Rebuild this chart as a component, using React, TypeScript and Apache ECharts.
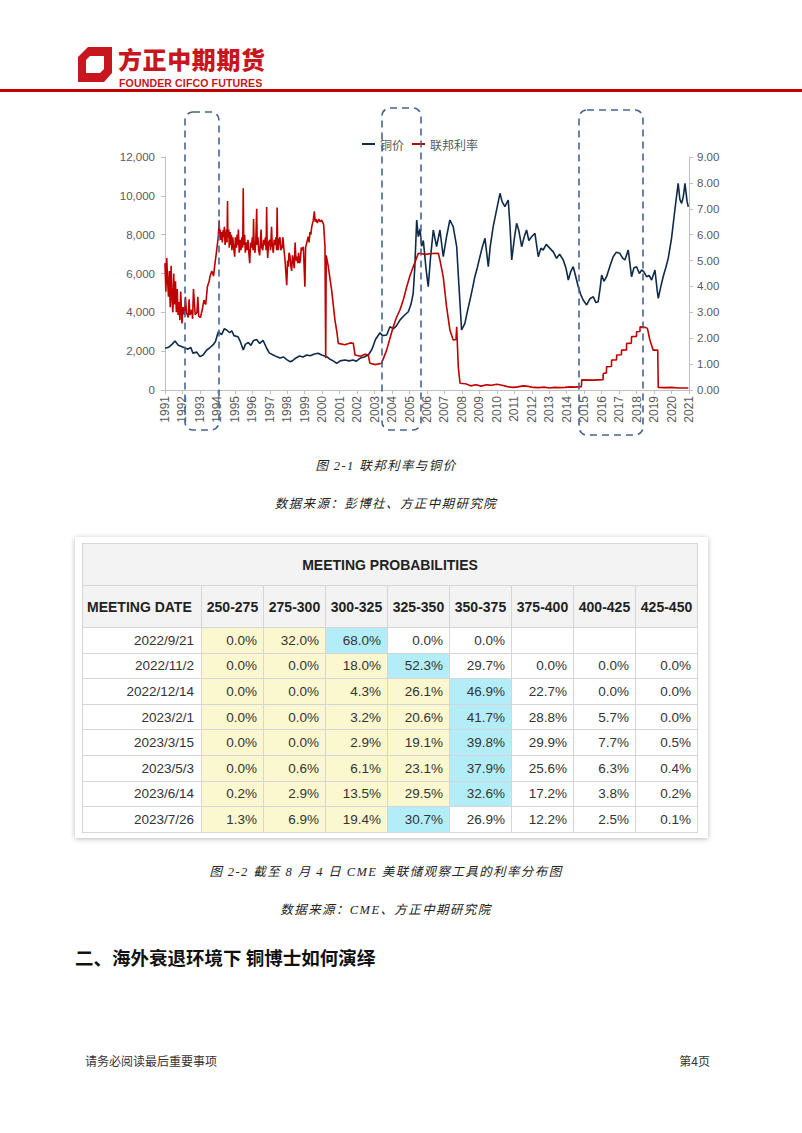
import React, { useEffect, useRef } from "react";
import * as echarts from "echarts";

// ---------- Chart data (decimal year, value) ----------
const copperPrice: [number, number][] = [
  [1991.0, 2150], [1991.2, 2200], [1991.4, 2350], [1991.57, 2520], [1991.76, 2300], [1991.91, 2250],
  [1992.14, 2160], [1992.32, 2100], [1992.47, 2200], [1992.6, 1900], [1992.82, 1950], [1993.0, 1720],
  [1993.18, 1800], [1993.39, 2060], [1993.53, 2150], [1993.75, 2320], [1993.89, 2500], [1994.05, 3000],
  [1994.24, 2850], [1994.39, 3150], [1994.53, 3090], [1994.7, 2950], [1994.82, 3050], [1994.95, 2800],
  [1995.18, 2740], [1995.31, 2500], [1995.48, 2060], [1995.6, 2350], [1995.77, 2450], [1995.92, 2300],
  [1996.07, 2550], [1996.25, 2600], [1996.42, 2400], [1996.62, 2550], [1996.82, 2150], [1996.98, 1900],
  [1997.2, 1800], [1997.38, 1720], [1997.58, 1650], [1997.79, 1700], [1997.99, 1550], [1998.16, 1460],
  [1998.29, 1500], [1998.5, 1650], [1998.7, 1750], [1998.9, 1700], [1999.11, 1800], [1999.31, 1760],
  [1999.56, 1850], [1999.77, 1890], [1999.97, 1800], [2000.26, 1715], [2000.42, 1600], [2000.63, 1500],
  [2000.83, 1375], [2001.03, 1500], [2001.3, 1545], [2001.53, 1500], [2001.78, 1545], [2001.94, 1480],
  [2002.16, 1630], [2002.4, 1700], [2002.64, 1800], [2002.85, 2100], [2003.05, 2600], [2003.31, 2950],
  [2003.45, 2800], [2003.69, 2830], [2003.88, 3260], [2004.07, 3150], [2004.25, 3300], [2004.45, 3600],
  [2004.65, 3800], [2004.93, 4030], [2005.08, 4400], [2005.21, 4980], [2005.3, 6300], [2005.41, 8750],
  [2005.5, 7900], [2005.6, 8300], [2005.69, 7400], [2005.79, 7700], [2005.95, 6200], [2006.07, 5320],
  [2006.2, 6800], [2006.36, 8240], [2006.55, 7380], [2006.74, 8240], [2006.93, 6865], [2007.12, 7900],
  [2007.31, 8755], [2007.5, 8410], [2007.7, 7380], [2007.82, 5500], [2007.98, 3090], [2008.17, 3435],
  [2008.3, 4000], [2008.46, 4635], [2008.62, 5300], [2008.74, 5835], [2008.88, 6300], [2009.03, 6865],
  [2009.18, 7400], [2009.32, 7810], [2009.51, 6350], [2009.62, 7400], [2009.79, 8410], [2009.99, 9300],
  [2010.18, 10130], [2010.3, 9700], [2010.46, 9440], [2010.65, 9785], [2010.75, 8500], [2010.85, 6700],
  [2011.0, 7800], [2011.13, 8585], [2011.26, 8200], [2011.42, 7380], [2011.57, 7900], [2011.7, 8240],
  [2011.83, 7700], [2011.99, 7895], [2012.18, 8070], [2012.37, 6865], [2012.52, 7300], [2012.65, 7210],
  [2012.83, 7500], [2013.04, 7295], [2013.24, 7100], [2013.42, 6780], [2013.59, 7000], [2013.8, 6695],
  [2013.95, 6300], [2014.09, 5665], [2014.23, 6100], [2014.37, 6350], [2014.5, 5900], [2014.66, 5320],
  [2014.81, 4900], [2014.94, 4635], [2015.14, 4380], [2015.33, 4700], [2015.52, 4805], [2015.67, 4500],
  [2015.8, 4550], [2015.92, 5300], [2016.0, 5920], [2016.13, 5600], [2016.28, 5835], [2016.48, 6400],
  [2016.66, 6865], [2016.84, 7100], [2017.04, 7040], [2017.19, 6800], [2017.33, 6695], [2017.52, 7210],
  [2017.71, 5835], [2017.85, 6300], [2018.0, 6350], [2018.16, 6000], [2018.29, 6180], [2018.41, 6100],
  [2018.57, 5835], [2018.72, 5900], [2018.86, 5665], [2019.05, 6180], [2019.17, 5200], [2019.24, 4720],
  [2019.38, 5300], [2019.52, 5835], [2019.67, 6300], [2019.81, 6780], [2020.0, 7810], [2020.19, 9270],
  [2020.29, 10000], [2020.38, 10645], [2020.48, 9800], [2020.58, 9615], [2020.68, 10000], [2020.77, 10645],
  [2020.89, 9700], [2020.96, 9440],
];

const fedFundsRate: [number, number][] = [
  [1991.0, 4.9], [1991.05, 3.8], [1991.1, 5.1], [1991.15, 4.2], [1991.2, 3.6], [1991.25, 4.6], [1991.3, 3.2],
  [1991.35, 4.8], [1991.4, 3.5], [1991.45, 3.0], [1991.5, 4.5], [1991.55, 3.3], [1991.6, 4.2], [1991.65, 3.0],
  [1991.7, 3.9], [1991.75, 2.9], [1991.8, 3.4], [1991.85, 2.7], [1991.9, 3.8], [1991.97, 2.57], [1992.03, 3.2],
  [1992.12, 2.9], [1992.17, 3.6], [1992.23, 3.0], [1992.33, 2.8], [1992.38, 3.5], [1992.43, 2.9], [1992.53, 3.1],
  [1992.58, 2.75], [1992.63, 3.9], [1992.73, 2.9], [1992.83, 3.0], [1992.88, 3.6], [1992.93, 2.85], [1993.03, 2.8],
  [1993.13, 3.1], [1993.23, 3.47], [1993.33, 3.3], [1993.43, 4.0], [1993.53, 4.2], [1993.57, 4.37], [1993.68, 4.6],
  [1993.78, 4.4], [1993.86, 4.89], [1993.94, 5.3],
  [1994.05, 5.92], [1994.08, 6.3], [1994.1, 6.56], [1994.13, 5.9], [1994.15, 6.2], [1994.2, 5.8], [1994.25, 6.1],
  [1994.28, 5.7], [1994.33, 6.18], [1994.36, 5.9], [1994.4, 6.3], [1994.44, 5.6], [1994.48, 5.9], [1994.52, 6.2],
  [1994.55, 5.7], [1994.58, 7.3], [1994.6, 5.9], [1994.65, 6.2], [1994.68, 5.5], [1994.73, 6.1], [1994.77, 5.6],
  [1994.8, 6.0], [1994.83, 5.4], [1994.88, 5.9], [1994.93, 5.5], [1994.99, 5.15], [1995.03, 5.9], [1995.09, 5.5],
  [1995.13, 6.0], [1995.17, 5.6], [1995.2, 6.2], [1995.25, 5.3], [1995.3, 5.8], [1995.35, 5.4], [1995.4, 5.9],
  [1995.45, 5.5], [1995.48, 7.79], [1995.51, 5.6], [1995.56, 6.0], [1995.6, 5.3], [1995.65, 5.7], [1995.7, 5.4],
  [1995.75, 5.8], [1995.8, 5.3], [1995.85, 4.9], [1995.9, 5.7], [1995.95, 5.5], [1996.0, 5.9], [1996.04, 5.4],
  [1996.07, 6.6], [1996.1, 5.6], [1996.15, 5.3], [1996.2, 5.8], [1996.25, 7.0], [1996.28, 5.6], [1996.32, 5.9],
  [1996.36, 5.4], [1996.42, 5.2], [1996.46, 5.7], [1996.5, 6.2], [1996.54, 5.5], [1996.6, 5.4], [1996.65, 5.8],
  [1996.7, 5.6], [1996.75, 5.9], [1996.79, 5.4], [1996.82, 7.07], [1996.85, 5.6], [1996.88, 5.1], [1996.93, 5.7],
  [1997.0, 5.8], [1997.04, 5.4], [1997.1, 6.3], [1997.14, 5.6], [1997.2, 5.3], [1997.25, 5.8], [1997.3, 5.6],
  [1997.35, 5.9], [1997.39, 5.4], [1997.42, 7.05], [1997.45, 5.6], [1997.48, 5.4], [1997.53, 5.8], [1997.58, 5.9],
  [1997.63, 5.4], [1997.7, 5.5], [1997.75, 5.9], [1997.8, 5.5], [1997.87, 5.02], [1997.97, 4.05], [1998.02, 5.0],
  [1998.06, 4.76], [1998.1, 5.3], [1998.15, 5.2], [1998.2, 4.8], [1998.25, 4.6], [1998.3, 5.2], [1998.35, 5.0],
  [1998.4, 4.7], [1998.45, 5.7], [1998.5, 5.0], [1998.54, 5.15], [1998.6, 4.9], [1998.65, 5.3], [1998.7, 4.9],
  [1998.75, 5.0], [1998.8, 5.5], [1998.85, 5.4], [1998.92, 5.53], [1999.01, 3.99], [1999.05, 5.5], [1999.12, 5.7],
  [1999.2, 5.92], [1999.25, 5.7], [1999.3, 6.1], [1999.35, 6.0], [1999.4, 6.3], [1999.49, 6.56], [1999.55, 6.9],
  [1999.6, 6.5], [1999.65, 6.6], [1999.72, 6.45], [1999.8, 6.6], [1999.88, 6.5], [1999.97, 6.56], [2000.08, 6.4],
  [2000.16, 5.53], [2000.2, 1.23], [2000.23, 5.2], [2000.35, 4.76], [2000.54, 3.86], [2000.73, 2.7], [2000.85, 2.2],
  [2000.92, 1.8], [2001.3, 1.75], [2001.6, 1.82], [2001.78, 1.8], [2001.88, 1.35], [2002.2, 1.3], [2002.45, 1.38],
  [2002.64, 1.35], [2002.73, 1.03], [2003.05, 0.98], [2003.4, 1.03], [2003.55, 1.3], [2003.69, 1.54], [2003.88, 2.0],
  [2004.07, 2.44], [2004.25, 2.8], [2004.45, 3.09], [2004.65, 3.5], [2004.84, 3.99], [2005.02, 4.4], [2005.21, 4.76],
  [2005.35, 5.0], [2005.5, 5.28], [2005.9, 5.24], [2006.3, 5.27], [2006.65, 5.28], [2006.74, 5.02], [2006.93, 4.37],
  [2007.12, 3.22], [2007.31, 2.32], [2007.5, 1.93], [2007.66, 1.95], [2007.7, 2.44], [2007.79, 0.9], [2007.89, 0.26],
  [2008.2, 0.24], [2008.5, 0.16], [2008.8, 0.2], [2009.1, 0.15], [2009.4, 0.2], [2009.7, 0.18], [2010.0, 0.22],
  [2010.3, 0.18], [2010.6, 0.13], [2010.9, 0.1], [2011.2, 0.12], [2011.5, 0.16], [2011.8, 0.14], [2012.1, 0.1],
  [2012.4, 0.09], [2012.7, 0.11], [2013.0, 0.08], [2013.3, 0.1], [2013.6, 0.09], [2013.9, 0.1], [2014.2, 0.12],
  [2014.5, 0.11], [2014.84, 0.13], [2014.86, 0.39], [2015.5, 0.38], [2016.08, 0.4], [2016.09, 0.64], [2016.27, 0.66],
  [2016.28, 0.9], [2016.56, 0.91], [2016.57, 1.16], [2016.85, 1.16], [2016.86, 1.35], [2017.13, 1.36], [2017.14, 1.54],
  [2017.42, 1.55], [2017.43, 1.8], [2017.7, 1.81], [2017.71, 2.06], [2017.99, 2.07], [2018.0, 2.25], [2018.19, 2.26],
  [2018.2, 2.44], [2018.5, 2.42], [2018.62, 2.38], [2018.76, 1.93], [2018.95, 1.54], [2019.21, 1.54], [2019.24, 0.1],
  [2019.6, 0.09], [2020.0, 0.1], [2020.4, 0.08], [2020.96, 0.08],
];

const seriesNames = ["铜价", "联邦利率"];
const yearRange = [1991, 2021];
const copperAxis = [0, 12000, 2000];
const rateAxis = [0, 9, 1];

// ---------- Table data ----------
const rateBuckets = ["250-275", "275-300", "300-325", "325-350", "350-375", "375-400", "400-425", "425-450"];
const meetingDates = ["2022/9/21", "2022/11/2", "2022/12/14", "2023/2/1", "2023/3/15", "2023/5/3", "2023/6/14", "2023/7/26"];
const probabilities: (number | null)[][] = [
  [0.0, 32.0, 68.0, 0.0, 0.0, null, null, null],
  [0.0, 0.0, 18.0, 52.3, 29.7, 0.0, 0.0, 0.0],
  [0.0, 0.0, 4.3, 26.1, 46.9, 22.7, 0.0, 0.0],
  [0.0, 0.0, 3.2, 20.6, 41.7, 28.8, 5.7, 0.0],
  [0.0, 0.0, 2.9, 19.1, 39.8, 29.9, 7.7, 0.5],
  [0.0, 0.6, 6.1, 23.1, 37.9, 25.6, 6.3, 0.4],
  [0.2, 2.9, 13.5, 29.5, 32.6, 17.2, 3.8, 0.2],
  [1.3, 6.9, 19.4, 30.7, 26.9, 12.2, 2.5, 0.1],
];

const RED = "#c8161e";
const CJK = '"Noto Sans CJK SC", "Noto Sans", sans-serif';
const SERIF_CJK = '"Liberation Serif", "Noto Sans CJK SC", serif';
const ARIAL = '"Liberation Sans", Arial, sans-serif';

function Chart() {
  const ref = useRef<HTMLDivElement>(null);
  useEffect(() => {
    if (!ref.current) return;
    const chart = echarts.init(ref.current, undefined, { renderer: "svg" });
    const axisGray = "#bfbfbf";
    const labelGray = "#595959";
    const boxes = [
      { x: 85, y: 12, w: 34, h: 318 },
      { x: 282, y: 8, w: 39, h: 322 },
      { x: 479, y: 10, w: 64, h: 325 },
    ];
    chart.setOption({
      animation: false,
      legend: {
        data: seriesNames,
        top: 33,
        left: "center",
        icon: "rect",
        itemWidth: 13,
        itemHeight: 2,
        itemGap: 8,
        textStyle: { color: labelGray, fontSize: 12, fontFamily: CJK },
      },
      grid: { left: 65, right: 51, top: 57, bottom: 55 },
      xAxis: {
        type: "value",
        min: yearRange[0],
        max: yearRange[1],
        interval: 1,
        axisLine: { show: true, lineStyle: { color: axisGray } },
        axisTick: { show: true, length: 4, lineStyle: { color: axisGray } },
        axisLabel: {
          rotate: 90,
          color: labelGray,
          fontSize: 12,
          fontFamily: ARIAL,
          margin: 6,
          formatter: (v: number) => String(v),
        },
        splitLine: { show: false },
      },
      yAxis: [
        {
          type: "value",
          min: copperAxis[0],
          max: copperAxis[1],
          interval: copperAxis[2],
          axisLine: { show: true, lineStyle: { color: axisGray } },
          axisTick: { show: true, length: 4, lineStyle: { color: axisGray } },
          axisLabel: {
            color: labelGray,
            fontSize: 11.5,
            fontFamily: ARIAL,
            margin: 10,
            formatter: (v: number) => v.toLocaleString("en-US"),
          },
          splitLine: { show: false },
        },
        {
          type: "value",
          position: "right",
          min: rateAxis[0],
          max: rateAxis[1],
          interval: rateAxis[2],
          axisLine: { show: true, lineStyle: { color: axisGray } },
          axisTick: { show: true, length: 4, lineStyle: { color: axisGray } },
          axisLabel: {
            color: labelGray,
            fontSize: 11.5,
            fontFamily: ARIAL,
            margin: 8,
            formatter: (v: number) => v.toFixed(2),
          },
          splitLine: { show: false },
        },
      ],
      series: [
        {
          name: seriesNames[0],
          type: "line",
          yAxisIndex: 0,
          data: copperPrice,
          showSymbol: false,
          symbol: "none",
          color: "#0f2a4a",
          lineStyle: { color: "#0f2a4a", width: 1.6 },
        },
        {
          name: seriesNames[1],
          type: "line",
          yAxisIndex: 1,
          data: fedFundsRate,
          showSymbol: false,
          symbol: "none",
          color: "#c00000",
          lineStyle: { color: "#c00000", width: 1.6 },
        },
      ],
      graphic: boxes.map((b) => ({
        type: "rect",
        silent: true,
        z: 100,
        shape: { x: b.x, y: b.y, width: b.w, height: b.h, r: 8 },
        style: { fill: "transparent", stroke: "#46648f", lineWidth: 1.6, lineDash: [7, 5] },
      })),
    });
    return () => chart.dispose();
  }, []);
  return <div ref={ref} style={{ position: "absolute", left: 100, top: 100, width: 640, height: 345 }} />;
}

function ProbTable() {
  const border = "1px solid #d6d6d6";
  const headBg = "#f3f3f3";
  return (
    <div
      style={{
        position: "absolute",
        left: 75,
        top: 537,
        width: 633,
        height: 301,
        background: "#fff",
        boxShadow: "0 1px 5px rgba(0,0,0,0.28)",
      }}
    >
      <table
        style={{
          position: "absolute",
          left: 7,
          top: 6,
          width: 615,
          borderCollapse: "collapse",
          tableLayout: "fixed",
          fontFamily: ARIAL,
          color: "#333",
        }}
      >
        <colgroup>
          <col style={{ width: 119 }} />
          {rateBuckets.map((b) => (
            <col key={b} style={{ width: 62 }} />
          ))}
        </colgroup>
        <tbody>
          <tr style={{ height: 42 }}>
            <td
              colSpan={9}
              style={{
                border,
                background: headBg,
                textAlign: "center",
                fontWeight: 700,
                fontSize: 14,
                color: "#222",
              }}
            >
              MEETING PROBABILITIES
            </td>
          </tr>
          <tr style={{ height: 42 }}>
            <td style={{ border, background: headBg, fontWeight: 700, fontSize: 14, color: "#222", paddingLeft: 4, whiteSpace: "nowrap" }}>
              MEETING DATE
            </td>
            {rateBuckets.map((b) => (
              <td key={b} style={{ border, background: headBg, fontWeight: 700, fontSize: 14, color: "#222", textAlign: "center" }}>
                {b}
              </td>
            ))}
          </tr>
          {meetingDates.map((d, i) => {
            const row = probabilities[i];
            let maxIdx = 0;
            row.forEach((v, j) => {
              if (v !== null && v > (row[maxIdx] ?? -1)) maxIdx = j;
            });
            return (
              <tr key={d} style={{ height: 25.6 }}>
                <td style={{ border, textAlign: "right", paddingRight: 7, fontSize: 13.5 }}>{d}</td>
                {row.map((v, j) => (
                  <td
                    key={j}
                    style={{
                      border,
                      textAlign: "right",
                      paddingRight: 6,
                      fontSize: 13.5,
                      background: v === null ? "#fff" : j === maxIdx ? "#b3eef8" : j < maxIdx ? "#fbf8cf" : "#fff",
                    }}
                  >
                    {v === null ? "" : v.toFixed(1) + "%"}
                  </td>
                ))}
              </tr>
            );
          })}
        </tbody>
      </table>
    </div>
  );
}

function Caption({ text, top, cx = 386 }: { text: string; top: number; cx?: number }) {
  return (
    <div
      style={{
        position: "absolute",
        left: cx - 250,
        width: 500,
        top,
        textAlign: "center",
        fontFamily: SERIF_CJK,
        fontStyle: "italic",
        fontSize: 12.5,
        letterSpacing: 1.4,
        color: "#222",
        lineHeight: "16px",
        whiteSpace: "nowrap",
      }}
    >
      {text}
    </div>
  );
}

export default function App() {
  return (
    <div
      style={{
        position: "absolute",
        left: 0,
        top: 0,
        width: 802,
        height: 1133,
        background: "#fff",
        overflow: "hidden",
        fontFamily: CJK,
      }}
    >
      {/* Header logo */}
      <svg style={{ position: "absolute", left: 78, top: 47 }} width={34} height={35} viewBox="0 0 34 35">
        <polygon points="10,0 34,0 34,26 26,35 0,35 0,10" fill={RED} />
        <polygon points="12,9 26,9 26,22 22,26 8,26 8,13" fill="#fff" />
      </svg>
      <div
        style={{
          position: "absolute",
          left: 118,
          top: 46.5,
          fontSize: 24,
          lineHeight: "24px",
          fontWeight: 900,
          color: RED,
          fontFamily: CJK,
          letterSpacing: 0.6,
          whiteSpace: "nowrap",
        }}
      >
        方正中期期货
      </div>
      <div
        style={{
          position: "absolute",
          left: 119,
          top: 76.5,
          fontSize: 10.6,
          lineHeight: "12px",
          fontWeight: 700,
          color: RED,
          fontFamily: ARIAL,
          letterSpacing: 0.1,
          whiteSpace: "nowrap",
        }}
      >
        FOUNDER CIFCO FUTURES
      </div>
      <div style={{ position: "absolute", left: 0, top: 89, width: 802, height: 3, background: "#c00000" }} />

      <Chart />

      <Caption text="图 2-1 联邦利率与铜价" top={458} />
      <Caption text="数据来源：彭博社、方正中期研究院" top={496} />

      <ProbTable />

      <Caption text="图 2-2 截至 8 月 4 日 CME 美联储观察工具的利率分布图" top={864} />
      <Caption text="数据来源：CME、方正中期研究院" top={902} />

      <div
        style={{
          position: "absolute",
          left: 75,
          top: 945,
          fontSize: 18.5,
          lineHeight: "24px",
          fontWeight: 700,
          color: "#111",
          fontFamily: CJK,
          whiteSpace: "nowrap",
        }}
      >
        二、海外衰退环境下 铜博士如何演绎
      </div>

      <div
        style={{
          position: "absolute",
          left: 85,
          top: 1053,
          fontSize: 12,
          lineHeight: "16px",
          color: "#333",
          fontFamily: CJK,
          whiteSpace: "nowrap",
        }}
      >
        请务必阅读最后重要事项
      </div>
      <div
        style={{
          position: "absolute",
          right: 92,
          top: 1053,
          fontSize: 12,
          lineHeight: "16px",
          color: "#333",
          fontFamily: CJK,
          whiteSpace: "nowrap",
        }}
      >
        第4页
      </div>
    </div>
  );
}
